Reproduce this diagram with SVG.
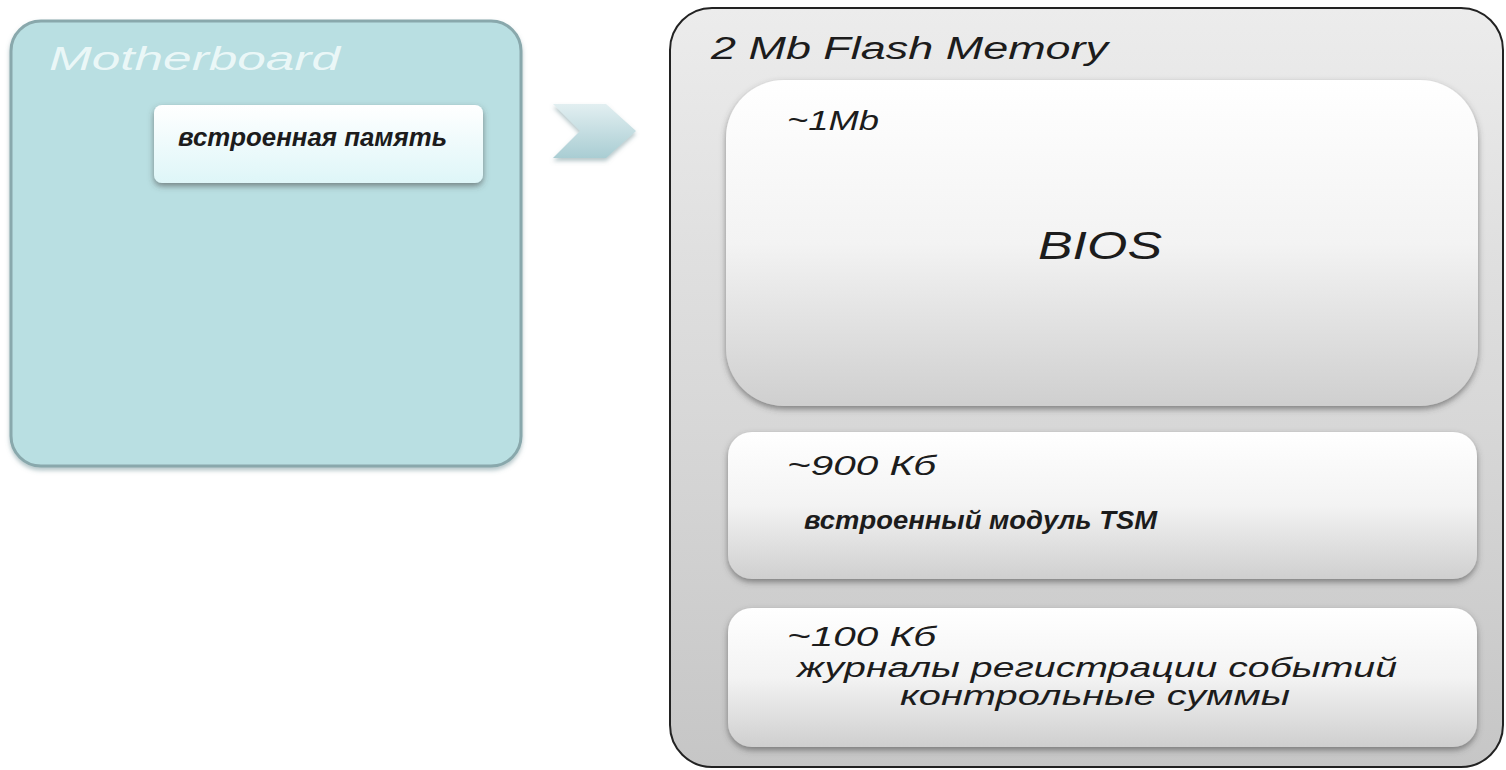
<svg xmlns="http://www.w3.org/2000/svg" width="1506" height="770" viewBox="0 0 1506 770">
  <style>
    .t { font-family: "Liberation Sans", Arial, sans-serif; font-style: italic; fill: #1c1c1c; }
    .b { font-weight: bold; }
    .mb { fill: #f2fbfb; fill-opacity: 0.9; }
  </style>
  <defs>
    <linearGradient id="outerFill" x1="0" y1="0" x2="0" y2="1">
      <stop offset="0" stop-color="#ececec"/>
      <stop offset="1" stop-color="#c6c6c6"/>
    </linearGradient>
    <linearGradient id="cardFill" x1="0" y1="0" x2="0" y2="1">
      <stop offset="0" stop-color="#ffffff"/>
      <stop offset="0.5" stop-color="#f3f3f3"/>
      <stop offset="1" stop-color="#cfcfcf"/>
    </linearGradient>
    <linearGradient id="memFill" x1="0" y1="0" x2="0" y2="1">
      <stop offset="0" stop-color="#ffffff"/>
      <stop offset="1" stop-color="#def6f8"/>
    </linearGradient>
    <linearGradient id="chevFill" x1="0" y1="0" x2="0" y2="1">
      <stop offset="0" stop-color="#e2eff1"/>
      <stop offset="1" stop-color="#a9cdd3"/>
    </linearGradient>
    <filter id="shadow" x="-10%" y="-10%" width="120%" height="130%">
      <feDropShadow dx="0" dy="3" stdDeviation="3" flood-color="#444" flood-opacity="0.6"/>
    </filter>
    <filter id="softShadow" x="-10%" y="-10%" width="120%" height="130%">
      <feDropShadow dx="0" dy="3" stdDeviation="2" flood-color="#6b8f94" flood-opacity="0.5"/>
    </filter>
  </defs>

  <rect width="1506" height="770" fill="#ffffff"/>

  <!-- Motherboard -->
  <g id="motherboard">
    <rect x="11" y="21" width="510" height="445" rx="30" ry="30" fill="#b9dfe2" stroke="#89a8ac" stroke-width="3" filter="url(#softShadow)"/>
    <text class="t mb" x="49" y="70" font-size="33" textLength="291" lengthAdjust="spacingAndGlyphs">Motherboard</text>
  </g>

  <g id="builtin-memory">
    <rect x="154" y="105" width="329" height="78" rx="8" ry="8" fill="url(#memFill)" filter="url(#shadow)"/>
    <text class="t b" x="178" y="146" font-size="26" textLength="269" lengthAdjust="spacingAndGlyphs">встроенная память</text>
  </g>

  <!-- Chevron between the two blocks -->
  <g id="connectors">
    <polygon points="553,104 606,104 636,131 606,158 553,158 580,131" fill="url(#chevFill)" filter="url(#softShadow)"/>
  </g>

  <!-- Flash memory -->
  <g id="flash">
    <rect x="670" y="8" width="833" height="759" rx="42" ry="42" fill="url(#outerFill)" stroke="#222" stroke-width="2"/>
    <text class="t" x="711" y="59" font-size="31" textLength="397" lengthAdjust="spacingAndGlyphs">2 Mb Flash Memory</text>
  </g>

  <g id="bios">
    <rect x="726" y="80" width="752" height="326" rx="58" ry="58" fill="url(#cardFill)" filter="url(#shadow)"/>
    <text class="t" x="787" y="130" font-size="27" textLength="92" lengthAdjust="spacingAndGlyphs">~1Mb</text>
    <text class="t" x="1038" y="259" font-size="38" textLength="124" lengthAdjust="spacingAndGlyphs">BIOS</text>
  </g>

  <g id="tsm">
    <rect x="728" y="432" width="749" height="147" rx="24" ry="24" fill="url(#cardFill)" filter="url(#shadow)"/>
    <text class="t" x="787" y="475" font-size="27" textLength="149" lengthAdjust="spacingAndGlyphs">~900 Кб</text>
    <text class="t b" x="804" y="529" font-size="25" textLength="353" lengthAdjust="spacingAndGlyphs">встроенный модуль TSM</text>
  </g>

  <g id="logs">
    <rect x="728" y="608" width="749" height="139" rx="24" ry="24" fill="url(#cardFill)" filter="url(#shadow)"/>
    <text class="t" x="787" y="646" font-size="27" textLength="149" lengthAdjust="spacingAndGlyphs">~100 Кб</text>
    <text class="t" x="797" y="677" font-size="27" textLength="600" lengthAdjust="spacingAndGlyphs">журналы регистрации событий</text>
    <text class="t" x="900" y="705" font-size="27" textLength="390" lengthAdjust="spacingAndGlyphs">контрольные суммы</text>
  </g>
</svg>
